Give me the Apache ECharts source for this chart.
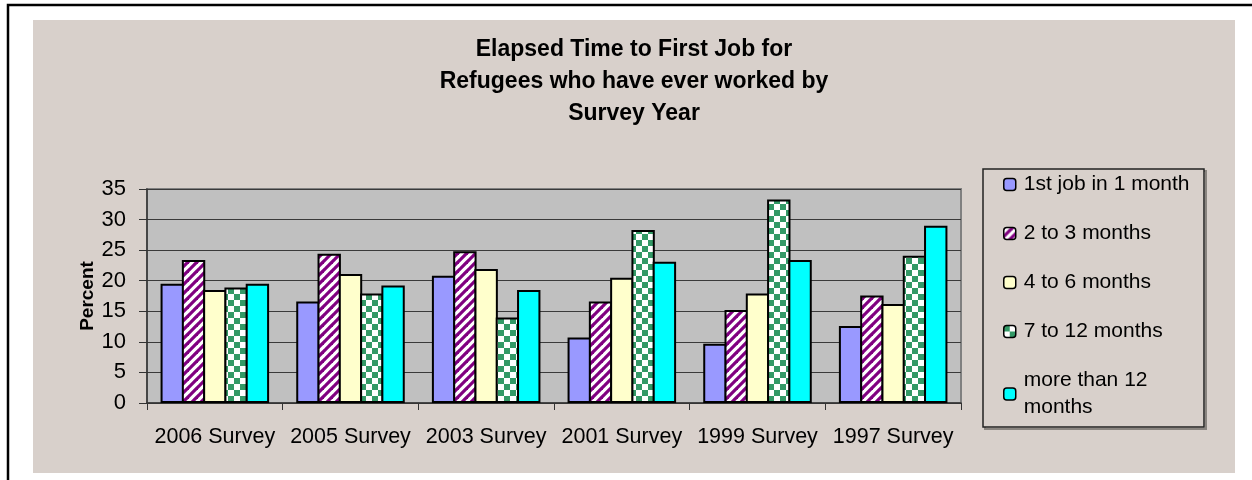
<!DOCTYPE html>
<html>
<head>
<meta charset="utf-8">
<script src="https://cdn.jsdelivr.net/npm/echarts@6/dist/echarts.min.js"></script>
<style>
  html, body { margin: 0; padding: 0; background: #fff; }
  #chart { width: 1252px; height: 480px; }
</style>
</head>
<body>
<div id="chart"></div>
<script>
// data
const surveys = ['2006 Survey', '2005 Survey', '2003 Survey', '2001 Survey', '1999 Survey', '1997 Survey'];
const seriesNames = ['1st job in 1 month', '2 to 3 months', '4 to 6 months', '7 to 12 months', 'more than 12 months'];
const firstMonth = [19.5, 16.6, 20.8, 10.7, 9.7, 12.6];
const twoToThree = [23.4, 24.4, 24.8, 16.6, 15.2, 17.6];
const fourToSix = [18.5, 21.1, 21.9, 20.5, 17.9, 16.2];
const sevenToTwelve = [18.9, 17.9, 14.0, 28.3, 33.3, 24.1];
const moreThanTwelve = [19.5, 19.2, 18.5, 23.1, 23.4, 29.0];
const yMin = 0, yMax = 35, yStep = 5;

const FONT = '"Liberation Sans", Arial, sans-serif';

// hatch fills like the old excel patterns
function diagPattern(size, fg, bg) {
  const c = document.createElement('canvas');
  c.width = size; c.height = size;
  const ctx = c.getContext('2d');
  ctx.fillStyle = bg;
  ctx.fillRect(0, 0, size, size);
  ctx.strokeStyle = fg;
  ctx.lineWidth = size * 0.36;
  [0, size, 2 * size].forEach(k => {
    ctx.beginPath();
    ctx.moveTo(k - size * 1.5, size * 1.5);
    ctx.lineTo(k + size * 0.5, -size * 0.5);
    ctx.stroke();
  });
  return { image: c, repeat: 'repeat' };
}

function checkerPattern(cell, fg, bg) {
  const c = document.createElement('canvas');
  c.width = cell * 2; c.height = cell * 2;
  const ctx = c.getContext('2d');
  ctx.fillStyle = bg;
  ctx.fillRect(0, 0, cell * 2, cell * 2);
  ctx.fillStyle = fg;
  ctx.fillRect(0, 0, cell, cell);
  ctx.fillRect(cell, cell, cell, cell);
  return { image: c, repeat: 'repeat' };
}

const fills = [
  '#9999FF',
  diagPattern(9, '#800080', '#FFFFFF'),
  '#FFFFCC',
  checkerPattern(6, '#339966', '#FFFFFF'),
  '#00FFFF'
];
const values = [firstMonth, twoToThree, fourToSix, sevenToTwelve, moreThanTwelve];

const chart = echarts.init(document.getElementById('chart'));

const option = {
  animation: false,
  backgroundColor: '#FFFFFF',
  textStyle: { fontFamily: FONT },
  graphic: [
    { type: 'rect', z: -10, shape: { x: 8, y: 5, width: 1280, height: 500 }, style: { fill: 'none', stroke: '#000', lineWidth: 2.5 } },
    { type: 'rect', z: -9, shape: { x: 33, y: 20, width: 1202, height: 453 }, style: { fill: '#D8D0CB' } },
    { type: 'rect', z: -8, shape: { x: 985, y: 171, width: 221, height: 258 }, style: { fill: 'none', stroke: '#8a8580', lineWidth: 2 } },
    { type: 'rect', z: -7, shape: { x: 983, y: 169, width: 221, height: 258 }, style: { fill: '#D8D0CB', stroke: '#222', lineWidth: 1.5 } }
  ],
  title: {
    text: 'Elapsed Time to First Job for\nRefugees who have ever worked by\nSurvey Year',
    left: 634,
    top: 34,
    padding: 0,
    textAlign: 'center',
    textVerticalAlign: 'top',
    textStyle: { fontFamily: FONT, fontSize: 23, fontWeight: 'bold', lineHeight: 32, color: '#000' }
  },
  legend: {
    orient: 'vertical',
    left: 1003,
    top: 171,
    padding: 0,
    itemWidth: 12,
    itemHeight: 12,
    itemGap: 22,
    data: seriesNames,
    formatter: name => name === 'more than 12 months' ? 'more than 12\nmonths' : name,
    itemStyle: { borderColor: '#000', borderWidth: 1.5 },
    textStyle: { fontFamily: FONT, fontSize: 21, lineHeight: 27, color: '#000', padding: [0, 0, 0, 3] }
  },
  grid: {
    left: 147,
    right: 291,
    top: 189,
    bottom: 77,
    show: true,
    backgroundColor: '#C0C0C0',
    borderColor: '#808080',
    borderWidth: 2
  },
  xAxis: {
    type: 'category',
    data: surveys,
    axisLine: { lineStyle: { color: '#333', width: 1.5 } },
    axisTick: { show: true, length: 7, lineStyle: { color: '#333' } },
    axisLabel: { fontFamily: FONT, fontSize: 21.5, color: '#000', margin: 23, interval: 0 }
  },
  yAxis: {
    type: 'value',
    min: yMin,
    max: yMax,
    interval: yStep,
    name: 'Percent',
    nameLocation: 'middle',
    nameRotate: 90,
    nameGap: 50,
    nameMoveOverlap: false,
    nameTextStyle: { fontFamily: FONT, fontSize: 19, fontWeight: 'bold', color: '#000' },
    axisLine: { show: true, lineStyle: { color: '#333', width: 1.5 } },
    axisTick: { show: true, length: 8, lineStyle: { color: '#333' } },
    axisLabel: { fontFamily: FONT, fontSize: 22, color: '#000', margin: 21 },
    splitLine: { show: true, lineStyle: { color: '#3a3a3a', width: 1.2 } }
  },
  series: seriesNames.map((name, i) => ({
    name: name,
    type: 'bar',
    data: values[i],
    barGap: '-9%',
    barCategoryGap: '20%',
    itemStyle: { color: fills[i], borderColor: '#000', borderWidth: 2 }
  }))
};

chart.setOption(option);
</script>
</body>
</html>
